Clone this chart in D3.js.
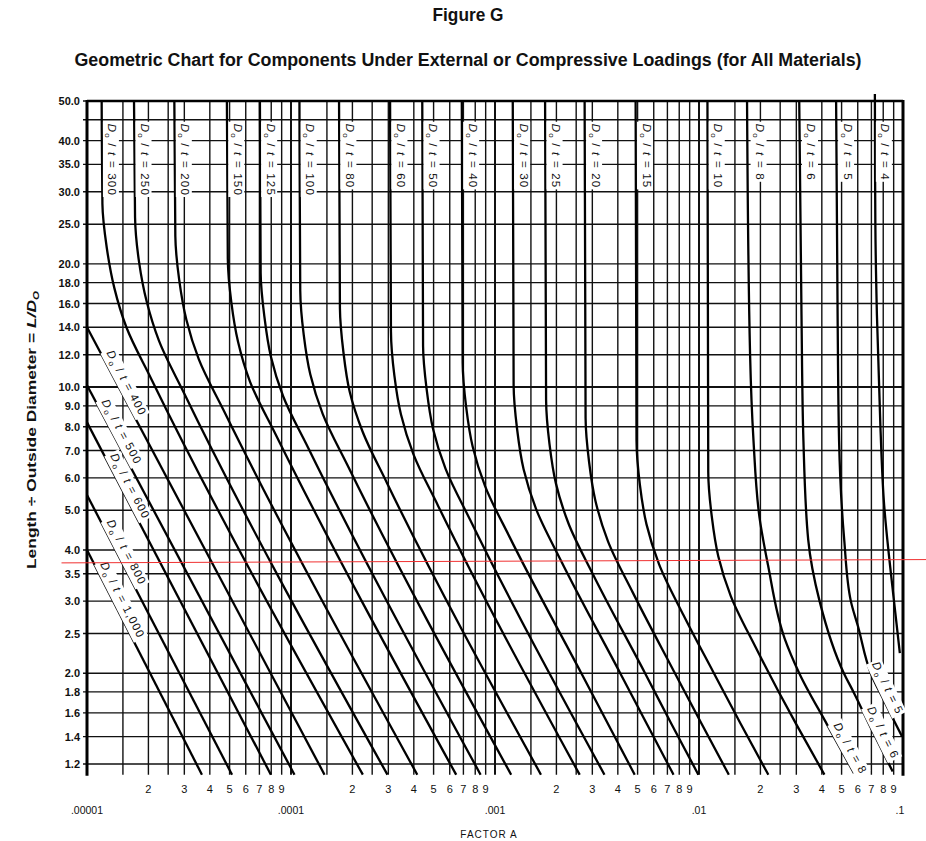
<!DOCTYPE html>
<html>
<head>
<meta charset="utf-8">
<script src="https://cdn.jsdelivr.net/npm/d3@7"></script>
<style>
  body { margin: 0; background: #fff; }
  svg { display: block; }
  text { font-family: "Liberation Sans", Arial, sans-serif; fill: #111; }
</style>
</head>
<body>
<svg id="chart" width="926" height="841"></svg>
<script>
// Figure G - geometric chart, Factor A vs L/Do for each Do/t

// axis values
const yTickValues = [50, 40, 35, 30, 25, 20, 18, 16, 14, 12, 10, 9, 8, 7, 6, 5, 4, 3.5, 3, 2.5, 2, 1.8, 1.6, 1.4, 1.2];
const yTickLabels = ["50.0", "40.0", "35.0", "30.0", "25.0", "20.0", "18.0", "16.0", "14.0", "12.0", "10.0", "9.0", "8.0", "7.0", "6.0", "5.0", "4.0", "3.5", "3.0", "2.5", "2.0", "1.8", "1.6", "1.4", "1.2"];
const yExtraGrid = [45];
const xDecades = [1e-5, 1e-4, 1e-3, 1e-2, 1e-1];
const xDecadeLabels = [".00001", ".0001", ".001", ".01", ".1"];
const xGridSteps = [1, 1.5, 2, 2.5, 3, 4, 5, 6, 7, 8, 9];
const xMinorLabels = [2, 3, 4, 5, 6, 7, 8, 9];

// Do/t curves, points as [Factor A, L/Do]
const curveNames = ["1,000", "800", "600", "500", "400",
  "300", "250", "200", "150", "125", "100", "80", "60", "50", "40",
  "30", "25", "20", "15", "10", "8", "6", "5", "4"];
const curvePoints = [
  [[1e-5, 4.0], [3.66e-5, 1.13]],
  [[1e-5, 5.45], [5.14e-5, 1.13]],
  [[1e-5, 8.2], [7.97e-5, 1.13]],
  [[1e-5, 10.1], [1.04e-4, 1.13]],
  [[1e-5, 14.0], [1.46e-4, 1.13]],
  [[1.18e-5, 50], [1.19e-5, 28], [1.25e-5, 21.9], [1.36e-5, 17.5], [1.56e-5, 14.0], [2.06e-5, 10.5], [2.25e-4, 1.13]],
  [[1.7e-5, 50], [1.72e-5, 26], [1.8e-5, 20.2], [1.96e-5, 16.2], [2.25e-5, 13.0], [2.98e-5, 9.7], [2.97e-4, 1.13]],
  [[2.68e-5, 50], [2.71e-5, 23.4], [2.83e-5, 18.3], [3.07e-5, 14.6], [3.53e-5, 11.7], [4.66e-5, 8.8], [4.16e-4, 1.13]],
  [[4.85e-5, 50], [4.9e-5, 20.6], [5.1e-5, 16.1], [5.5e-5, 12.9], [6.3e-5, 10.3], [8.33e-5, 7.74], [6.45e-4, 1.13]],
  [[7.04e-5, 50], [7.1e-5, 19.0], [7.4e-5, 14.9], [7.96e-5, 11.9], [9.15e-5, 9.5], [1.21e-4, 7.13], [8.5e-4, 1.13]],
  [[1.1e-4, 50], [1.11e-4, 17.2], [1.155e-4, 13.4], [1.243e-4, 10.75], [1.43e-4, 8.6], [1.89e-4, 6.45], [1.2e-3, 1.13]],
  [[1.72e-4, 50], [1.737e-4, 15.6], [1.806e-4, 12.2], [1.94e-4, 9.74], [2.24e-4, 7.8], [2.95e-4, 5.84], [1.68e-3, 1.13]],
  [[3.06e-4, 50], [3.09e-4, 13.7], [3.21e-4, 10.7], [3.46e-4, 8.57], [3.98e-4, 6.86], [5.25e-4, 5.14], [2.6e-3, 1.13]],
  [[4.4e-4, 50], [4.44e-4, 12.6], [4.62e-4, 9.9], [4.97e-4, 7.9], [5.72e-4, 6.32], [7.55e-4, 4.74], [3.44e-3, 1.13]],
  [[6.875e-4, 50], [6.94e-4, 11.5], [7.22e-4, 8.95], [7.77e-4, 7.16], [8.94e-4, 5.73], [1.18e-3, 4.3], [2.65e-3, 2.0], [4.84e-3, 1.13]],
  [[1.222e-3, 50], [1.234e-3, 10.1], [1.283e-3, 7.9], [1.381e-3, 6.3], [1.589e-3, 5.04], [2.098e-3, 3.78], [4.11e-3, 2.0], [5.56e-3, 1.5], [7.5e-3, 1.13]],
  [[1.76e-3, 50], [1.78e-3, 9.3], [1.85e-3, 7.26], [1.99e-3, 5.81], [2.29e-3, 4.65], [3.02e-3, 3.49], [5.44e-3, 2.0], [7.34e-3, 1.5], [9.93e-3, 1.13]],
  [[2.75e-3, 50], [2.78e-3, 8.4], [2.89e-3, 6.58], [3.11e-3, 5.26], [3.58e-3, 4.2], [4.72e-3, 3.16], [7.62e-3, 2.0], [1.033e-2, 1.5], [1.4e-2, 1.13]],
  [[4.89e-3, 50], [4.94e-3, 7.4], [5.13e-3, 5.78], [5.53e-3, 4.62], [6.36e-3, 3.7], [8.4e-3, 2.77], [1.183e-2, 2.0], [1.605e-2, 1.5], [2.187e-2, 1.13]],
  [[1.1e-2, 50], [1.11e-2, 6.2], [1.155e-2, 4.83], [1.243e-2, 3.86], [1.43e-2, 3.09], [1.89e-2, 2.32], [2.46e-2, 1.8], [3.0e-2, 1.5], [4.12e-2, 1.13]],
  [[1.72e-2, 50], [1.78e-2, 12], [1.85e-2, 7.4], [1.98e-2, 4.8], [2.18e-2, 3.67], [2.63e-2, 2.43], [3.1e-2, 2.0], [4.24e-2, 1.5], [5.75e-2, 1.14]],
  [[3.1e-2, 50], [3.18e-2, 15], [3.25e-2, 7.4], [3.43e-2, 4.24], [3.9e-2, 3.0], [5.13e-2, 2.0], [5.75e-2, 1.79], [7.05e-2, 1.45], [8.9e-2, 1.15]],
  [[4.7e-2, 50], [4.78e-2, 15], [4.86e-2, 7.4], [5.15e-2, 4.24], [5.55e-2, 3.0], [6.02e-2, 2.6], [6.95e-2, 2.0], [8.04e-2, 1.72], [9.9e-2, 1.40]],
  [[7.28e-2, 52], [7.32e-2, 25], [7.45e-2, 15], [7.75e-2, 8], [8.05e-2, 5.3], [8.98e-2, 3.08], [9.65e-2, 2.24]]
];

// labels running down beside the long-cylinder (vertical) part
const topLabelCurves = ["300", "250", "200", "150", "125", "100", "80", "60", "50", "40", "30", "25", "20", "15", "10", "8", "6", "5", "4"];
// labels laid along the sloped part, at this L/Do
const slopeLabelCurves = ["400", "500", "600", "800", "1,000", "5", "6", "8"];
const slopeLabelAt = [10.0, 7.6, 5.6, 3.86, 2.95, 1.8, 1.4, 1.28];

// stray red reference line on the scan
const redLine = [[7.5e-6, 3.72], [0.13, 3.79]];

const svg = d3.select("#chart");

const x = d3.scaleLog().domain([1e-5, 0.1]).range([87, 903]);
const y = d3.scaleLog().domain([1.2, 50]).range([764, 101]);
const yBottom = y(1.13);

const grid = svg.append("g");

// horizontal grid
grid.selectAll("line.h")
  .data(yTickValues.concat(yExtraGrid))
  .enter().append("line")
  .attr("x1", x(1e-5) - 4)
  .attr("x2", x(0.1))
  .attr("y1", d => y(d))
  .attr("y2", d => y(d))
  .attr("stroke", "#111")
  .attr("stroke-width", d => d === 10 ? 2 : 1.4);

// vertical grid
const xGridValues = [];
xDecades.slice(0, -1).forEach(d => xGridSteps.forEach(s => xGridValues.push(d * s)));
xGridValues.push(0.1);

grid.selectAll("line.v")
  .data(xGridValues)
  .enter().append("line")
  .attr("x1", d => x(d))
  .attr("x2", d => x(d))
  .attr("y1", y(50))
  .attr("y2", yBottom)
  .attr("stroke", "#111")
  .attr("stroke-width", (d, i) => i % xGridSteps.length === 0 ? 2 : 1.4);

// curves
const line = d3.line()
  .x(d => x(d[0]))
  .y(d => y(d[1]))
  .curve(d3.curveMonotoneY);

svg.append("g")
  .selectAll("path")
  .data(curvePoints)
  .enter().append("path")
  .attr("d", line)
  .attr("fill", "none")
  .attr("stroke", "#000")
  .attr("stroke-width", 2.3);

// borders
svg.append("line")
  .attr("x1", x(1e-5)).attr("x2", x(1e-5))
  .attr("y1", y(50) - 1).attr("y2", yBottom + 1)
  .attr("stroke", "#000").attr("stroke-width", 3);
svg.append("line")
  .attr("x1", x(0.1)).attr("x2", x(0.1))
  .attr("y1", y(50) - 1).attr("y2", yBottom + 1)
  .attr("stroke", "#000").attr("stroke-width", 3);
svg.append("line")
  .attr("x1", x(1e-5)).attr("x2", x(0.1))
  .attr("y1", y(50)).attr("y2", y(50))
  .attr("stroke", "#000").attr("stroke-width", 2.5);

// helpers for label placement
function pointsOf(name) {
  const key = name.replace(",", "");
  const i = curveNames.findIndex(n => n.replace(",", "") === key);
  return curvePoints[i];
}

function aAt(pts, L) {
  for (let i = 0; i < pts.length - 1; i++) {
    const [a0, l0] = pts[i], [a1, l1] = pts[i + 1];
    if (L <= l0 && L >= l1) {
      const t = Math.log(L / l0) / Math.log(l1 / l0);
      return Math.exp(Math.log(a0) + t * Math.log(a1 / a0));
    }
  }
  return pts[pts.length - 1][0];
}

function addLabel(g, name) {
  const t = g.append("text")
    .attr("font-size", "11.5px")
    .attr("letter-spacing", "1.2px")
    .attr("y", 4)
    .attr("text-anchor", g.attr("data-anchor"));
  t.append("tspan").attr("font-style", "italic").text("D");
  t.append("tspan").attr("font-size", "8px").attr("dy", 3).text("o");
  t.append("tspan").attr("dy", -3).text(" / ");
  t.append("tspan").attr("font-style", "italic").text("t");
  t.append("tspan").text(" = " + name);
  const b = t.node().getBBox();
  g.insert("rect", "text")
    .attr("x", b.x - 2).attr("y", b.y - 0.5)
    .attr("width", b.width + 3).attr("height", b.height + 1)
    .attr("fill", "#fff");
}

const labels = svg.append("g");

topLabelCurves.forEach(name => {
  const pts = pointsOf(name);
  const g = labels.append("g")
    .attr("data-anchor", "start")
    .attr("transform", `translate(${x(pts[1][0]) + 10},${y(44)}) rotate(90)`);
  addLabel(g, name);
});

slopeLabelCurves.forEach((name, i) => {
  const pts = pointsOf(name);
  const L = slopeLabelAt[i];
  const p1 = [x(aAt(pts, L * 1.06)), y(L * 1.06)];
  const p2 = [x(aAt(pts, L / 1.06)), y(L / 1.06)];
  const ang = Math.atan2(p2[1] - p1[1], p2[0] - p1[0]);
  const cx = x(aAt(pts, L)) + 9 * Math.sin(ang);
  const cy = y(L) - 9 * Math.cos(ang);
  const g = labels.append("g")
    .attr("data-anchor", "middle")
    .attr("transform", `translate(${cx},${cy}) rotate(${ang * 180 / Math.PI})`);
  addLabel(g, name);
});

// y tick labels
svg.append("g")
  .selectAll("text")
  .data(yTickValues)
  .enter().append("text")
  .attr("x", x(1e-5) - 7)
  .attr("y", d => y(d) + 4)
  .attr("text-anchor", "end")
  .attr("font-size", "11px")
  .attr("font-weight", "bold")
  .attr("fill", "#222")
  .text((d, i) => yTickLabels[i]);

// x minor labels
const minorVals = [];
xDecades.slice(0, -1).forEach(d => xMinorLabels.forEach(m => minorVals.push([d * m, m])));
svg.append("g")
  .selectAll("text")
  .data(minorVals)
  .enter().append("text")
  .attr("x", d => x(d[0]))
  .attr("y", 793)
  .attr("text-anchor", "middle")
  .attr("font-size", "11px")
  .text(d => d[1]);

// x decade labels
svg.append("g")
  .selectAll("text")
  .data(xDecades)
  .enter().append("text")
  .attr("x", (d, i) => x(d) - (i === xDecades.length - 1 ? 3 : 0))
  .attr("y", 814)
  .attr("text-anchor", "middle")
  .attr("font-size", "10.5px")
  .text((d, i) => xDecadeLabels[i]);

// axis titles
svg.append("text")
  .attr("x", 489).attr("y", 838)
  .attr("text-anchor", "middle")
  .attr("font-size", "10px")
  .attr("letter-spacing", "1px")
  .text("FACTOR A");

const yt = svg.append("text")
  .attr("transform", "translate(36,430) rotate(-90)")
  .attr("text-anchor", "middle")
  .attr("font-size", "13.5px")
  .attr("font-weight", "bold")
  .attr("fill", "#1a1a1a")
  .attr("textLength", 278)
  .attr("lengthAdjust", "spacingAndGlyphs");
yt.append("tspan").text("Length ÷ Outside Diameter = ");
yt.append("tspan").attr("font-style", "italic").text("L/D");
yt.append("tspan").attr("font-style", "italic").attr("font-size", "9px").attr("dy", 3).text("O");

// titles
svg.append("text")
  .attr("x", 468).attr("y", 21)
  .attr("text-anchor", "middle")
  .attr("font-family", "'Liberation Sans Narrow', 'Liberation Sans', sans-serif")
  .attr("font-weight", "bold")
  .attr("font-size", "18px")
  .attr("textLength", 71)
  .attr("lengthAdjust", "spacingAndGlyphs")
  .text("Figure G");

svg.append("text")
  .attr("x", 468).attr("y", 66)
  .attr("text-anchor", "middle")
  .attr("font-family", "'Liberation Sans Narrow', 'Liberation Sans', sans-serif")
  .attr("font-weight", "bold")
  .attr("font-size", "18px")
  .attr("textLength", 787)
  .attr("lengthAdjust", "spacingAndGlyphs")
  .text("Geometric Chart for Components Under External or Compressive Loadings (for All Materials)");

// red line across the scan
svg.append("path")
  .datum(redLine)
  .attr("d", d3.line().x(d => x(d[0])).y(d => y(d[1])))
  .attr("stroke", "#f03030")
  .attr("stroke-width", 1)
  .attr("fill", "none");
</script>
</body>
</html>
